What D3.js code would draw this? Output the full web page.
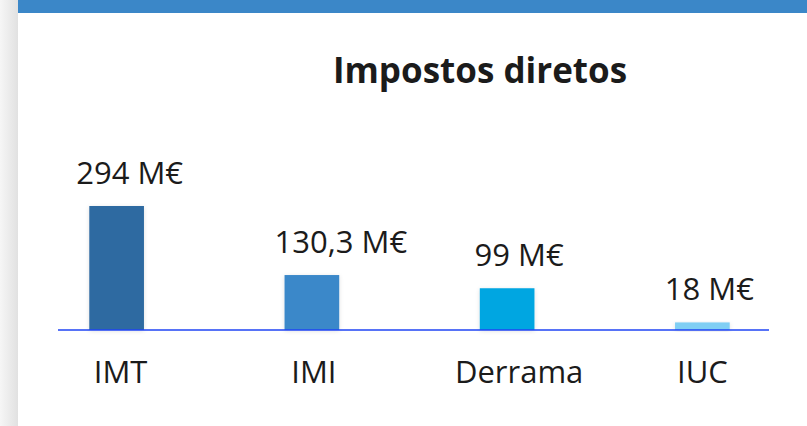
<!DOCTYPE html>
<html>
<head>
<meta charset="utf-8">
<script src="https://cdn.jsdelivr.net/npm/d3@7"></script>
<style>
  body { margin: 0; background: #fff; }
  svg { display: block; }
  text { font-family: "Open Sans", "Noto Sans", sans-serif; fill: #1b1b1b; }
</style>
</head>
<body>
<svg width="807" height="426"></svg>
<script>
// Data
const categories = ["IMT", "IMI", "Derrama", "IUC"];
const values = [294, 130.3, 99, 18];
const valueLabels = ["294 M€", "130,3 M€", "99 M€", "18 M€"];
const barColors = ["#2f6ba1", "#3a88c9", "#00a6e1", "#80cff4"];

// Label nudges (the source places labels by hand)
const labelNudge = [13, 29, 12, 7];
const catNudge = [4, 2, 12, 0];

const svg = d3.select("svg"),
    width = +svg.attr("width"),
    height = +svg.attr("height");

// Background bits: gray strip left, blue band top
const defs = svg.append("defs");
const grad = defs.append("linearGradient").attr("id", "strip");
grad.append("stop").attr("offset", "0%").attr("stop-color", "#f6f6f6");
grad.append("stop").attr("offset", "100%").attr("stop-color", "#e1e1e1");

const shadow = defs.append("filter").attr("id", "shadow")
    .attr("x", "-20%").attr("y", "-10%").attr("width", "140%").attr("height", "130%");
shadow.append("feDropShadow")
    .attr("dx", 0).attr("dy", 1).attr("stdDeviation", 2)
    .attr("flood-color", "#000").attr("flood-opacity", 0.12);

svg.append("rect").attr("x", 0).attr("y", 0).attr("width", 18).attr("height", height)
    .attr("fill", "url(#strip)");
svg.append("rect").attr("x", 18).attr("y", 0).attr("width", width - 18).attr("height", 13)
    .attr("fill", "#3b87c8");

// Scales
const x = d3.scaleBand().domain(categories).range([19, 800]).paddingInner(0.72).paddingOuter(0.36);
const y = d3.scaleLinear().domain([0, 294]).range([330, 206]);

// Title
svg.append("text")
    .attr("x", 480).attr("y", 83)
    .attr("text-anchor", "middle")
    .attr("font-size", 35)
    .attr("font-weight", "bold")
    .text("Impostos diretos");

// Bars
svg.append("g").selectAll("rect")
    .data(values)
    .enter().append("rect")
    .attr("x", (d, i) => x(categories[i]))
    .attr("width", x.bandwidth())
    .attr("y", d => y(d))
    .attr("height", d => y(0) - y(d))
    .attr("fill", (d, i) => barColors[i])
    .attr("filter", "url(#shadow)");

// Baseline
svg.append("line")
    .attr("x1", 58).attr("x2", 769)
    .attr("y1", y(0)).attr("y2", y(0))
    .attr("stroke", "#1f45f5").attr("stroke-width", 1.6);

// Value labels
svg.append("g").selectAll("text")
    .data(values)
    .enter().append("text")
    .attr("x", (d, i) => x(categories[i]) + x.bandwidth() / 2 + labelNudge[i])
    .attr("y", d => y(d) - 22)
    .attr("text-anchor", "middle")
    .attr("font-size", 31)
    .text((d, i) => valueLabels[i]);

// Category axis labels
const xAxis = d3.axisBottom(x).tickSize(0).tickPadding(0);
const axisG = svg.append("g")
    .attr("transform", "translate(0," + y(0) + ")")
    .call(xAxis);
axisG.select(".domain").remove();
axisG.selectAll("text")
    .attr("dy", null)
    .attr("y", 53)
    .attr("x", (d, i) => catNudge[i])
    .attr("font-size", 31)
    .attr("font-family", "'Open Sans', 'Noto Sans', sans-serif")
    .attr("fill", "#1b1b1b");
</script>
</body>
</html>
